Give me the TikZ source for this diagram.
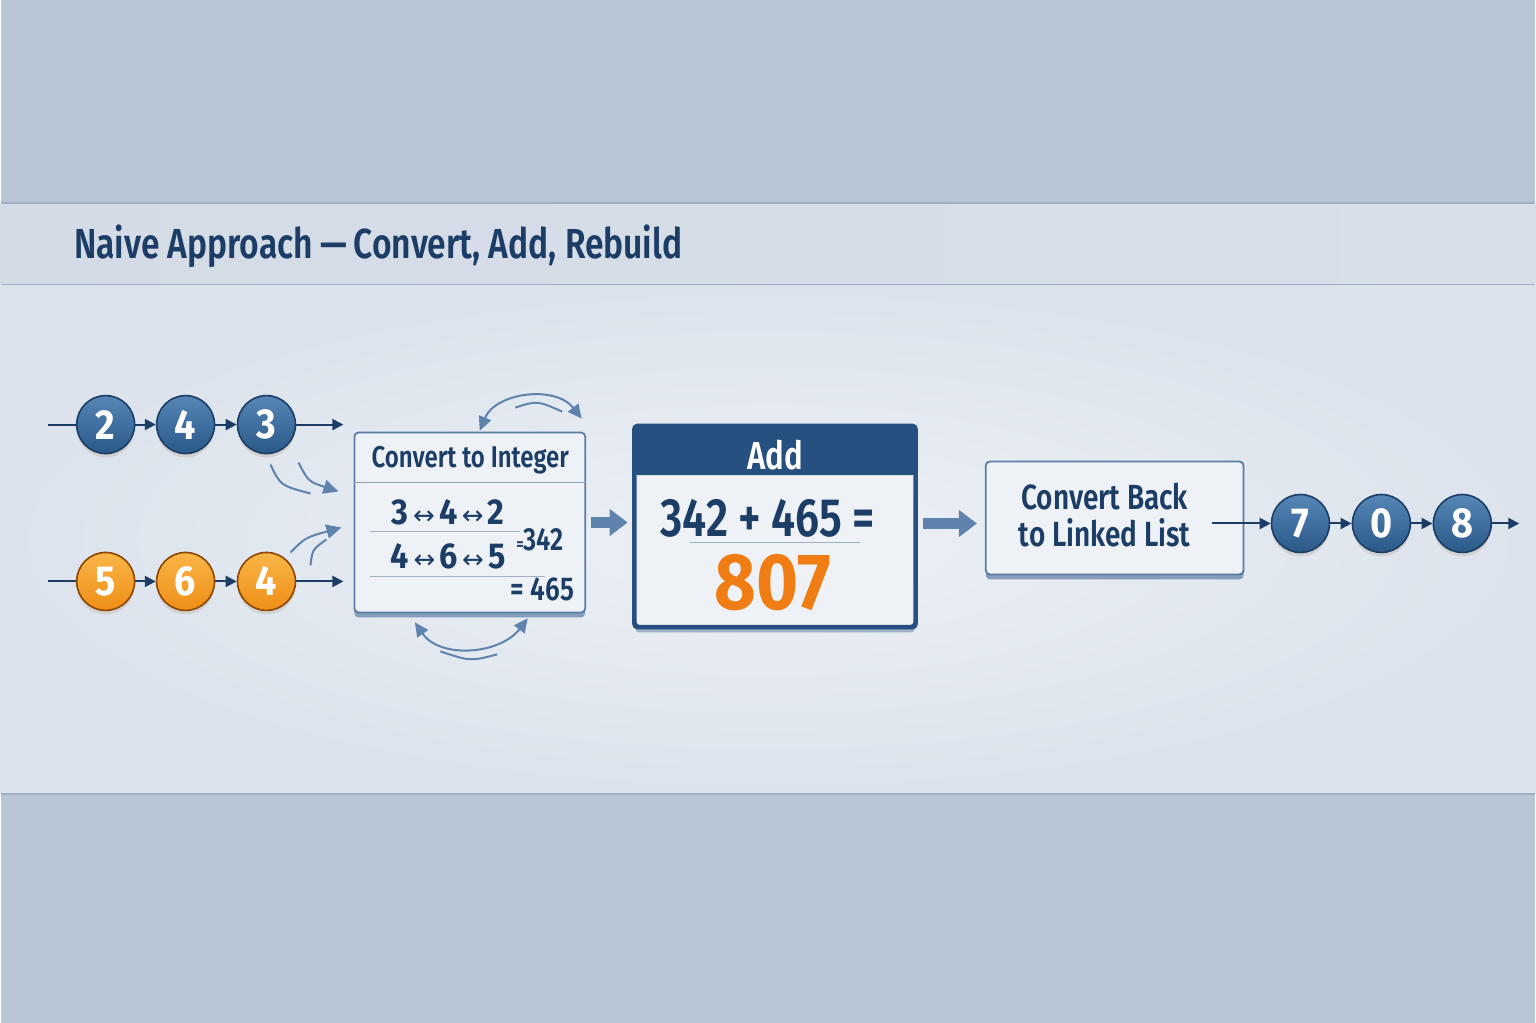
\documentclass[tikz,border=0pt]{standalone}
\usepackage{fontspec}
\setmainfont{Fira Sans}[FakeStretch=0.8,BoldFont={Fira Sans SemiBold}]
\newfontfamily\heavy{Fira Sans Bold}[FakeStretch=0.9]
\newfontfamily\symfont{DejaVu Sans}
\usetikzlibrary{arrows.meta,positioning,calc}
\definecolor{navy}{HTML}{1C3D66}
\definecolor{bandgray}{HTML}{B8C5D5}
\definecolor{titleband}{HTML}{D8DFE9}
\definecolor{panel}{HTML}{DCE3EC}
\definecolor{panellt}{HTML}{EDF1F6}
\definecolor{rulegray}{HTML}{9FB0C4}
\definecolor{nodeblue}{HTML}{2A5988}
\definecolor{nodebluelt}{HTML}{5686B6}
\definecolor{nodeorange}{HTML}{EF8E16}
\definecolor{nodeorangelt}{HTML}{F9B648}
\definecolor{orangetxt}{HTML}{F07D14}
\definecolor{boxline}{HTML}{5A7CA3}
\definecolor{headblue}{HTML}{25507F}
\definecolor{curvblue}{HTML}{5F83AC}
\definecolor{boxfill}{HTML}{EEF2F7}
\newcommand{\lr}{{\symfont\fontsize{26}{26}\selectfont\,↔\,}}

\begin{document}
\begin{tikzpicture}[x=1pt,y=-1pt,
  lnode/.style={circle,minimum size=58pt,inner sep=0pt,line width=1.6pt,text=white,
    font=\fontsize{42}{42}\heavy,
    preaction={fill=black!18,transform canvas={yshift=-4pt}}},
  bnode/.style={lnode,draw=navy,top color=nodebluelt,bottom color=nodeblue},
  onode/.style={lnode,draw=orange!55!black,top color=nodeorangelt,bottom color=nodeorange},
  link/.style={draw=navy,line width=2pt,-{Triangle[length=11pt,width=11pt]}},
  curv/.style={draw=curvblue,line width=2pt},
  fat/.style={draw=curvblue,line width=11pt,-{Triangle[length=18pt,width=26pt]}},
  box/.style={draw=boxline,line width=1.8pt,rounded corners=4pt,fill=boxfill,
    preaction={fill=boxline!75,transform canvas={yshift=-5pt}}}]

% background bands
\fill[bandgray] (0,0) rectangle (1536,1024);
\fill[left color=titleband!85!bandgray,right color=titleband] (0,204) rectangle (1536,285);
\shade[inner color=panellt,outer color=panel] (0,286) rectangle (1536,795);
\draw[rulegray,line width=1.5pt] (0,203) -- (1536,203);
\draw[rulegray,line width=1.5pt] (0,285) -- (1536,285);
\draw[rulegray,line width=1.5pt] (0,795) -- (1536,795);

\node[anchor=west,text=navy,font=\fontsize{42}{42}\selectfont\bfseries] (title) at (70,247)
  {Naive Approach\,—\,Convert, Add, Rebuild};

% input lists
\node[bnode] (a1) at (105,425) {2};
\node[bnode] (a2) at (185,425) {4};
\node[bnode] (a3) at (266,425) {3};
\node[onode] (b1) at (105,582) {5};
\node[onode] (b2) at (185,582) {6};
\node[onode] (b3) at (266,582) {4};
\coordinate (a0) at (47,425);
\coordinate (aout) at (343,425);
\coordinate (b0) at (47,582);
\coordinate (bout) at (343,582);
\draw[navy,line width=2pt] (a0) -- (a1);
\draw[navy,line width=2pt] (b0) -- (b1);
\draw[link] (a1) -- (a2);
\draw[link] (a2) -- (a3);
\draw[link] (a3) -- (aout);
\draw[link] (b1) -- (b2);
\draw[link] (b2) -- (b3);
\draw[link] (b3) -- (bout);

% convert box
\node[box,minimum width=231pt,minimum height=180pt] (conv) at (469.5,523) {};
\node[text=navy,font=\fontsize{30}{30}\selectfont\bfseries] (convt) at (470,461) {Convert to Integer};
\draw[boxline!70,line width=1.5pt] ($(conv.north west)+(0,51)$) -- ($(conv.north east)+(0,51)$);
\node[text=navy,font=\fontsize{36}{36}\heavy] (n1) at (448,513) {3\lr 4\lr 2};
\draw[rulegray,line width=1.2pt] (370,532) -- (520,532);
\node[text=navy,font=\fontsize{36}{36}\heavy] (n2) at (448,557) {4\lr 6\lr 5};
\draw[rulegray,line width=1.2pt] (370,577) -- (545,577);
\node[anchor=west,text=navy,font=\fontsize{32}{32}\selectfont\bfseries,inner sep=0pt] (v1) at (516,540)
  {{\fontsize{18}{18}\selectfont=}342};
\node[anchor=east,text=navy,font=\fontsize{33}{33}\selectfont\bfseries,inner sep=0pt] (v2) at (574,590)
  {= 465};

% curved hints
\draw[curv] (270,465) .. controls (280,486) .. (310,494);
\draw[curv,-{Triangle[length=15pt,width=14pt]}] (298,463) .. controls (308,482) .. (338,492);
\draw[curv,-{Triangle[length=15pt,width=14pt]}] (290,553) .. controls (305,538) .. (341,528);
\draw[curv] (310,566) .. controls (312,550) .. (326,540);
\draw[curv,{Triangle[length=14pt,width=13pt]}-{Triangle[length=14pt,width=13pt]}]
  ($(conv.north)+(10,-1)$) .. controls (495,393) and (555,385) .. ($(conv.north)+(112,-13)$);
\draw[curv] (515,408) .. controls (537,401) .. (562,412);
\draw[curv,{Triangle[length=14pt,width=13pt]}-{Triangle[length=14pt,width=13pt]}]
  ($(conv.south)+(-55,9)$) .. controls (440,660) and (500,655) .. ($(conv.south)+(58,5)$);
\draw[curv] (440,652) .. controls (470,662) .. (497,655);

% add box
\node[box,draw=headblue,line width=3pt,minimum width=280pt,minimum height=200pt,
  preaction={fill=boxline!60,transform canvas={yshift=-6pt}}] (add) at (775,527) {};
\fill[headblue,rounded corners=4pt] (add.north west) rectangle ($(add.north east)+(0,50)$);
\draw[headblue,line width=3pt,rounded corners=4pt] (add.north west) rectangle (add.south east);
\node[text=white,font=\fontsize{39}{39}\selectfont\bfseries] (addt) at (775,456) {Add};
\node[text=navy,font=\fontsize{54}{54}\selectfont\bfseries] (sum) at (768,519) {342 + 465 =};
\draw[rulegray,line width=1.2pt] (690,543) -- (860,543);
\node[text=orangetxt,font=\fontsize{80}{80}\heavy] (res) at (773,583) {807};

\draw[fat] ($(conv.east)+(5,0)$) -- ($(add.west)+(-6,-4)$);

% convert back box
\node[box,minimum width=258pt,minimum height=113pt] (back) at (1115,518.5) {};
\node[text=navy,align=center,font=\fontsize{35}{37}\selectfont\bfseries] (backt) at (1105,516)
  {Convert Back\\to Linked List};
\draw[fat] ($(add.east)+(7,-3)$) -- ($(add.east -| back.west)+(-8,-3)$);

% result list
\node[bnode] (r1) at (1301,524) {7};
\node[bnode] (r2) at (1382,524) {0};
\node[bnode] (r3) at (1463,524) {8};
\coordinate (rin) at (1212,524);
\coordinate (rout) at (1520,524);
\draw[link] (rin) -- (r1);
\draw[link] (r1) -- (r2);
\draw[link] (r2) -- (r3);
\draw[link] (r3) -- (rout);
\end{tikzpicture}
\end{document}
